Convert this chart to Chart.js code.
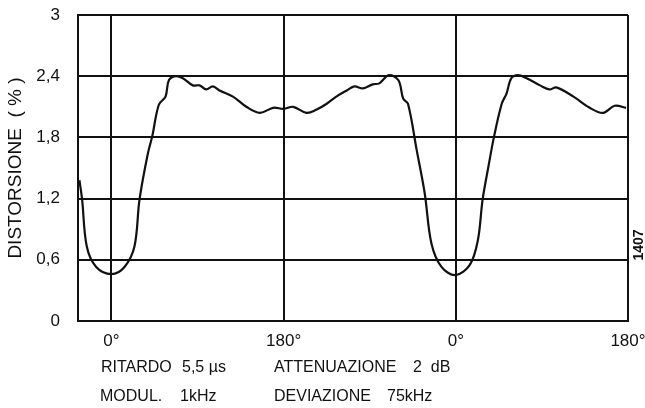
<!DOCTYPE html>
<html><head><meta charset="utf-8">
<script src="https://cdn.jsdelivr.net/npm/chart.js@4"></script>
<style>html,body{margin:0;padding:0;background:#fff}#c{display:block}</style>
</head><body>
<canvas id="c" width="645" height="408"></canvas>
<script>
const phaseDeg = [-33.5,-30.7,-25.8,-16,0,13.6,24,29.3,38,42.6,49.5,56.5,60,67,74.6,85,92,99,106,113,127,141,155,169,180,190,204,214,225,235,246,254,263,273,280,290,300,305,310,319,327.5,334.5,345,359.7,374.6,383,388,394,400,408,413,418,425,434,448,458,465,483,500,514,526,538];
const distortion = [1.38,1.19,0.73,0.53,0.46,0.53,0.73,1.19,1.64,1.81,2.12,2.20,2.36,2.40,2.38,2.31,2.31,2.27,2.30,2.26,2.20,2.10,2.04,2.09,2.08,2.10,2.04,2.07,2.13,2.20,2.26,2.30,2.28,2.32,2.33,2.41,2.36,2.18,2.13,1.68,1.25,0.76,0.53,0.45,0.55,0.79,1.19,1.51,1.81,2.13,2.23,2.38,2.41,2.38,2.31,2.27,2.29,2.20,2.09,2.04,2.11,2.09];
const xTickValues = [0,180,360,540];
const xTickLabels = ['0°','180°','0°','180°'];
const yTickValues = [0,0.6,1.2,1.8,2.4,3];
const yTickLabels = ['0','0,6','1,2','1,8','2,4','3'];
const yTitle = 'DISTORSIONE  ( % )';
const noteLines = [
  [['RITARDO',101],['5,5 µs',182],['ATTENUAZIONE',274],['2  dB',413]],
  [['MODUL.',100],['1kHz',180],['DEVIAZIONE',274],['75kHz',387]]
];
const figNumber = '1407';

const FONT = 'Liberation Sans';
const ink = '#111';

const textPlugin = {
  id: 'notes',
  afterDraw(chart) {
    const ctx = chart.ctx;
    ctx.save();
    ctx.fillStyle = ink;
    ctx.font = '16px "' + FONT + '"';
    ctx.textBaseline = 'alphabetic';
    ctx.textAlign = 'left';
    const ys = [372, 401];
    noteLines.forEach((line, i) => line.forEach(([t, x]) => ctx.fillText(t, x, ys[i])));
    ctx.translate(639, 245);
    ctx.rotate(-Math.PI / 2);
    ctx.font = 'bold 14px "' + FONT + '"';
    ctx.textAlign = 'center';
    ctx.textBaseline = 'middle';
    ctx.fillText(figNumber, 0, 0);
    ctx.restore();
  }
};

new Chart(document.getElementById('c'), {
  type: 'line',
  data: {
    datasets: [{
      data: phaseDeg.map((x, i) => ({x, y: distortion[i]})),
      borderColor: ink,
      borderWidth: 2.2,
      pointRadius: 0,
      tension: 0.35,
      fill: false
    }]
  },
  options: {
    responsive: false,
    animation: false,
    events: [],
    layout: { padding: { top: 15, right: 17, left: 0, bottom: 0 } },
    plugins: { legend: { display: false }, tooltip: { enabled: false } },
    scales: {
      x: {
        type: 'linear',
        min: -35, max: 540,
        afterBuildTicks(s) { s.ticks = xTickValues.map(v => ({value: v})); },
        afterFit(s) { s.height = 87; s.paddingLeft = 0; s.paddingRight = 0; },
        ticks: {
          autoSkip: false, maxRotation: 0,
          padding: 10,
          color: ink,
          font: { family: FONT, size: 17 },
          callback: (v) => xTickLabels[xTickValues.indexOf(v)]
        },
        grid: { color: ink, lineWidth: 2, drawTicks: false },
        border: { color: ink, width: 2 }
      },
      y: {
        min: 0, max: 3,
        afterBuildTicks(s) { s.ticks = yTickValues.map(v => ({value: v})); },
        afterFit(s) { s.width = 78; s.paddingTop = 0; s.paddingBottom = 0; },
        ticks: {
          padding: 18,
          color: ink,
          font: { family: FONT, size: 17 },
          callback: (v) => yTickLabels[yTickValues.indexOf(v)]
        },
        title: {
          display: true, text: yTitle, color: ink,
          font: { family: FONT, size: 19 },
          padding: { top: 4, bottom: 4 }
        },
        grid: { color: ink, lineWidth: 2, drawTicks: false },
        border: { color: ink, width: 2 }
      }
    }
  },
  plugins: [textPlugin]
});
</script>
</body></html>
